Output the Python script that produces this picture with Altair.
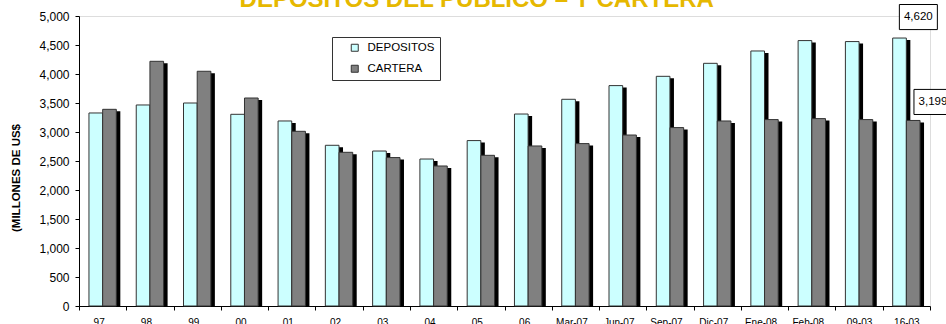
import altair as alt
import pandas as pd

title_text = "DEPOSITOS DEL PUBLICO \u2013 Y CARTERA"
categories = ["97", "98", "99", "00", "01", "02", "03", "04", "05", "06",
              "Mar-07", "Jun-07", "Sep-07", "Dic-07", "Ene-08", "Feb-08", "09-03", "16-03"]
depositos = [3328, 3466, 3500, 3305, 3190, 2771, 2672, 2534, 2852, 3310,
             3564, 3800, 3960, 4184, 4397, 4576, 4559, 4620]
cartera = [3391, 4219, 4047, 3586, 3012, 2650, 2559, 2414, 2598, 2759,
           2800, 2948, 3076, 3190, 3214, 3231, 3214, 3199]
series = ["DEPOSITOS", "CARTERA"]
colors = ["#CCFFFF", "#808080"]
y_ticks = list(range(0, 5001, 500))

rows = []
for i, c in enumerate(categories):
    rows.append({"cat": c, "serie": series[0], "valor": depositos[i]})
    rows.append({"cat": c, "serie": series[1], "valor": cartera[i]})
df = pd.DataFrame(rows)

FONT = "Liberation Sans"
last = categories[-1]
shifted = [c for c in categories if c not in ("09-03", "16-03")]

x_axis = alt.Axis(
    title=None, labelAngle=0, tickBand="extent", tickSize=4, labelPadding=7,
    labelFontSize=10, labelColor="black", labelFont=FONT, labelOverlap=False,
    domainColor="black", tickColor="black",
    labelOffset=alt.ExprRef("indexof(" + str(shifted) + ", datum.label) >= 0 ? -4 : 0"),
)
y_axis = alt.Axis(
    values=y_ticks, format=",.0f", grid=False, tickSize=4, labelPadding=6,
    labelFontSize=12, labelColor="black", labelFont=FONT, labelOverlap=False,
    domainColor="black", tickColor="black",
    title="(MILLONES DE US$", titleFontSize=11.5, titleFontWeight="bold",
    titleFont=FONT, titleColor="black", titleX=-63, titleY=161.5,
    titleAngle=-90, titleAlign="center", titleBaseline="middle",
)
x_scale = alt.Scale(paddingInner=0, paddingOuter=0)
y_scale = alt.Scale(domain=[0, 5000], nice=False)

BAR_W = alt.RelativeBandSize(0.289)
half = 6.85

base = alt.Chart(df)


def xy(yfield):
    return dict(
        x=alt.X("cat:N", sort=categories, scale=x_scale, axis=x_axis),
        y=alt.Y(yfield, scale=y_scale, axis=y_axis),
    )


def shadow_layer(serie, dx):
    return base.transform_filter(alt.datum.serie == serie).transform_calculate(
        top="datum.valor - 34"
    ).mark_bar(color="black", width=BAR_W, xOffset=dx + 4).encode(**xy("top:Q"))


def bar_layer(serie, dx):
    return base.transform_filter(alt.datum.serie == serie).mark_bar(
        width=BAR_W, xOffset=dx, stroke="#333333", strokeWidth=1
    ).encode(
        color=alt.Color(
            "serie:N", sort=series,
            scale=alt.Scale(domain=series, range=colors),
            legend=alt.Legend(
                title=None, orient="none", legendX=253, legendY=21,
                symbolType="square", symbolSize=49, symbolStrokeColor="#333333",
                symbolStrokeWidth=1, labelFontSize=11.5, labelFont=FONT,
                labelColor="black", labelOffset=7, rowPadding=8, padding=5,
                symbolOffset=12, strokeColor="#333333", fillColor="white",
                labelExpr="datum.label + '\u00a0\u00a0\u00a0\u00a0\u00a0\u00a0'",
            ),
        ),
        **xy("valor:Q"),
    )


box_shape = "M-1,-0.66L1,-0.66L1,0.66L-1,0.66Z"


def label_layers(serie, dx, dy):
    sub = base.transform_filter(
        (alt.datum.cat == last) & (alt.datum.serie == serie)
    )
    box = sub.mark_point(
        shape=box_shape, size=1444, filled=True, fill="white", stroke="black",
        strokeWidth=1, opacity=1, xOffset=dx, yOffset=dy,
    ).encode(**xy("valor:Q"))
    txt = sub.mark_text(
        font=FONT, fontSize=11.5, color="black", xOffset=dx, yOffset=dy,
        align="center", baseline="middle",
    ).encode(text=alt.Text("valor:Q", format=","), **xy("valor:Q"))
    return [box, txt]


title_layer = alt.Chart(pd.DataFrame({"t": [title_text]})).mark_text(
    font=FONT, fontSize=24, fontWeight="bold", color="#E6B800",
    align="center", baseline="alphabetic",
).encode(x=alt.value(397.7), y=alt.value(-8.7), text="t:N")

chart = alt.layer(
    shadow_layer(series[0], -half), shadow_layer(series[1], half),
    bar_layer(series[0], -half), bar_layer(series[1], half),
    *label_layers(series[0], 12, -21),
    *label_layers(series[1], 26.6, -18.5),
    title_layer,
).properties(
    width=851, height=290,
    autosize=alt.AutoSizeParams(type="none"),
    padding={"left": 79, "top": 16, "right": 16, "bottom": 18},
).configure_view(stroke="#444444", strokeWidth=1).configure(background="white")

chart.save("out.html", embed_options={"renderer": "svg", "actions": False})
